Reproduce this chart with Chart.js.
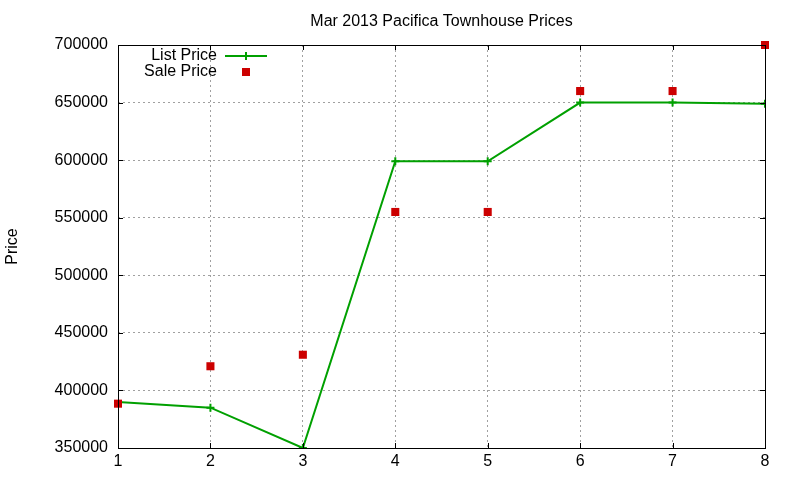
<!DOCTYPE html>
<html>
<head>
<meta charset="utf-8">
<script src="https://cdn.jsdelivr.net/npm/chart.js@4.4.0/dist/chart.umd.min.js"></script>
<style>
  html, body { margin: 0; padding: 0; background: #fff; }
  #wrap { width: 800px; height: 480px; }
</style>
</head>
<body>
<div id="wrap"><canvas id="chart"></canvas></div>
<script>
// Data
const units = [1, 2, 3, 4, 5, 6, 7, 8];
const listPrice = [390000, 385000, 350000, 599000, 599000, 650000, 650000, 649000];
const salePrice = [388500, 421000, 431000, 555000, 555000, 660000, 660000, 700000];
const seriesNames = ['List Price', 'Sale Price'];
const chartTitle = 'Mar 2013 Pacifica Townhouse Prices';

const FONT = 'Liberation Sans, Arial, sans-serif';
const GREEN = '#00a000';
const RED = '#cc0000';

function toPoints(values) {
    return units.map((u, i) => ({ x: u, y: values[i] }));
}

// gnuplot-like frame: solid box, inward ticks on all four sides, title over the plot, key at top left
const framePlugin = {
    id: 'frame',
    afterDatasetsDraw(chart) {
        const ctx = chart.ctx;
        const a = chart.chartArea;
        const xs = chart.scales.x;
        const ys = chart.scales.y;
        const len = 5;

        ctx.save();
        ctx.strokeStyle = '#000';
        ctx.lineWidth = 1;
        ctx.beginPath();
        xs.ticks.forEach(t => {
            const px = Math.round(xs.getPixelForValue(t.value)) + 0.5;
            ctx.moveTo(px, a.bottom); ctx.lineTo(px, a.bottom - len);
            ctx.moveTo(px, a.top); ctx.lineTo(px, a.top + len);
        });
        ys.ticks.forEach(t => {
            const py = Math.round(ys.getPixelForValue(t.value)) + 0.5;
            ctx.moveTo(a.left, py); ctx.lineTo(a.left + len, py);
            ctx.moveTo(a.right, py); ctx.lineTo(a.right - len, py);
        });
        ctx.stroke();
        ctx.strokeRect(Math.round(a.left) + 0.5, Math.round(a.top) + 0.5,
                       Math.round(a.right - a.left), Math.round(a.bottom - a.top));

        ctx.font = '16px ' + FONT;
        ctx.fillStyle = '#000';
        ctx.textBaseline = 'middle';

        // title, centred over the plot area
        ctx.textAlign = 'center';
        ctx.fillText(chartTitle, (a.left + a.right) / 2, 21.5);

        // key
        ctx.textAlign = 'right';
        const tx = a.left + 99;
        const sx = a.left + 128;
        const rows = [a.top + 11, a.top + 27];

        ctx.fillText(seriesNames[0], tx, rows[0]);
        ctx.strokeStyle = GREEN;
        ctx.lineWidth = 2;
        ctx.beginPath();
        ctx.moveTo(a.left + 107, rows[0]); ctx.lineTo(a.left + 149, rows[0]);
        ctx.moveTo(sx, rows[0] - 4); ctx.lineTo(sx, rows[0] + 4);
        ctx.stroke();

        ctx.fillText(seriesNames[1], tx, rows[1]);
        ctx.fillStyle = RED;
        ctx.fillRect(sx - 4, rows[1] - 4, 8, 8);
        ctx.restore();
    }
};

const ctx = document.getElementById('chart');

new Chart(ctx, {
    type: 'line',
    data: {
        datasets: [
            {
                label: seriesNames[0],
                data: toPoints(listPrice),
                borderColor: GREEN,
                borderWidth: 2,
                pointStyle: 'cross',
                pointRadius: 4,
                pointBorderWidth: 2,
                pointBorderColor: GREEN,
                tension: 0,
                fill: false,
                order: 1
            },
            {
                label: seriesNames[1],
                data: toPoints(salePrice),
                showLine: false,
                pointStyle: 'rect',
                pointRadius: 5.7,
                pointBorderWidth: 0,
                pointBackgroundColor: RED,
                pointBorderColor: RED,
                clip: false,
                order: 0
            }
        ]
    },
    options: {
        responsive: true,
        maintainAspectRatio: false,
        animation: false,
        layout: {
            padding: { left: 0, right: 35, top: 45, bottom: 0 }
        },
        plugins: {
            legend: { display: false },
            tooltip: { enabled: false },
            title: { display: false }
        },
        scales: {
            x: {
                type: 'linear',
                min: 1,
                max: 8,
                ticks: {
                    stepSize: 1,
                    color: '#000',
                    padding: 4,
                    font: { family: FONT, size: 16 }
                },
                grid: {
                    color: '#a0a0a0',
                    lineWidth: 1,
                    drawTicks: false
                },
                border: { display: false, dash: [2, 3] },
                afterFit: function(scale) { scale.height = 32; }
            },
            y: {
                min: 350000,
                max: 700000,
                ticks: {
                    stepSize: 50000,
                    color: '#000',
                    padding: 10,
                    font: { family: FONT, size: 16 },
                    callback: function(value) { return String(value); }
                },
                grid: {
                    color: '#a0a0a0',
                    lineWidth: 1,
                    drawTicks: false
                },
                border: { display: false, dash: [2, 3] },
                title: {
                    display: true,
                    text: 'Price',
                    color: '#000',
                    font: { family: FONT, size: 16 },
                    padding: { top: 3, bottom: 0 }
                },
                afterFit: function(scale) { scale.width = 118; }
            }
        }
    },
    plugins: [framePlugin]
});
</script>
</body>
</html>
